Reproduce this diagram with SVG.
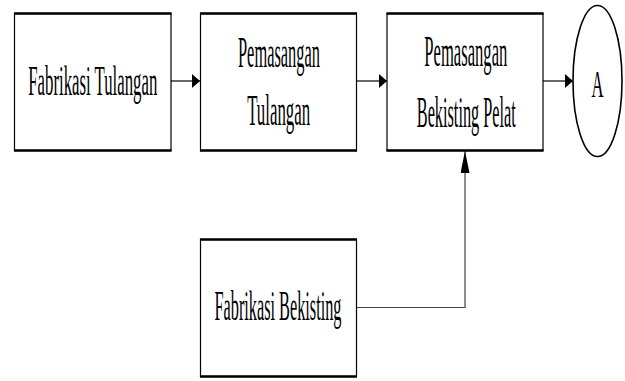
<svg xmlns="http://www.w3.org/2000/svg" width="625" height="381" viewBox="0 0 625 381">
<style>
.box{fill:#fff;stroke:#000;stroke-width:1.2}
.edge{stroke:#000;stroke-width:2.6}
.lbl{font-family:"Liberation Serif","Times New Roman",serif;fill:#000;text-anchor:middle}
.conn{fill:none;stroke:#000;stroke-width:1.2}
.conn2{fill:none;stroke:#444;stroke-width:1.2}
</style>
<defs>
<marker id="ah" markerUnits="userSpaceOnUse" markerWidth="9" markerHeight="15" refX="8" refY="7" orient="auto" viewBox="0 0 9 15">
<path d="M0,0 L8,7 L0,14 z" fill="#000"/>
</marker>
<marker id="av" markerUnits="userSpaceOnUse" markerWidth="23" markerHeight="10" refX="22" refY="4.5" orient="auto" viewBox="0 0 23 10">
<path d="M0,0 L22,4.5 L0,9 z" fill="#000"/>
</marker>
</defs>
<rect width="625" height="381" fill="#fff"/>
<g id="connectors">
<line class="conn" x1="171" y1="81" x2="200" y2="81" marker-end="url(#ah)"/>
<line class="conn" x1="357" y1="81" x2="387" y2="81" marker-end="url(#ah)"/>
<line class="conn" x1="543" y1="81" x2="573" y2="81" marker-end="url(#ah)"/>
<polyline class="conn2" points="357,307.5 465,307.5 465,151" marker-end="url(#av)"/>
</g>
<g id="fabrikasi-tulangan">
<rect class="box" x="14.5" y="13.5" width="156.5" height="137"/>
<line class="edge" x1="14" y1="13.5" x2="171.5" y2="13.5"/>
<line class="edge" x1="14" y1="150.5" x2="171.5" y2="150.5"/>
<text class="lbl" transform="scale(0.396,1)" x="234.3" y="95" font-size="42" textLength="325.8" lengthAdjust="spacingAndGlyphs">Fabrikasi Tulangan</text>
</g>
<g id="pemasangan-tulangan">
<rect class="box" x="200.5" y="13.5" width="156" height="137"/>
<line class="edge" x1="200" y1="13.5" x2="357" y2="13.5"/>
<line class="edge" x1="200" y1="150.5" x2="357" y2="150.5"/>
<text class="lbl" transform="scale(0.364,1)" x="766.5" y="66.7" font-size="45" textLength="225.3" lengthAdjust="spacingAndGlyphs">Pemasangan</text>
<text class="lbl" transform="scale(0.37,1)" x="753.2" y="125" font-size="45" textLength="170.3" lengthAdjust="spacingAndGlyphs">Tulangan</text>
</g>
<g id="pemasangan-bekisting">
<rect class="box" x="387" y="13.5" width="156" height="137"/>
<line class="edge" x1="386.5" y1="13.5" x2="543.5" y2="13.5"/>
<line class="edge" x1="386.5" y1="150.5" x2="543.5" y2="150.5"/>
<text class="lbl" transform="scale(0.364,1)" x="1279.7" y="65.7" font-size="45" textLength="228" lengthAdjust="spacingAndGlyphs">Pemasangan</text>
<text class="lbl" transform="scale(0.362,1)" x="1288.1" y="126.7" font-size="45" textLength="273.5" lengthAdjust="spacingAndGlyphs">Bekisting Pelat</text>
</g>
<g id="connector-a">
<ellipse cx="597.5" cy="81" rx="24.5" ry="75.5" fill="#fff" stroke="#000" stroke-width="1.6"/>
<text class="lbl" transform="scale(0.44,1)" x="1358" y="96.7" font-size="38" textLength="27.3" lengthAdjust="spacingAndGlyphs">A</text>
</g>
<g id="fabrikasi-bekisting">
<rect class="box" x="200.5" y="239.5" width="156" height="137"/>
<line class="edge" x1="200" y1="239.5" x2="357" y2="239.5"/>
<line class="edge" x1="200" y1="376.5" x2="357" y2="376.5"/>
<text class="lbl" transform="scale(0.387,1)" x="718.3" y="320" font-size="42" textLength="328.2" lengthAdjust="spacingAndGlyphs">Fabrikasi Bekisting</text>
</g>
</svg>
